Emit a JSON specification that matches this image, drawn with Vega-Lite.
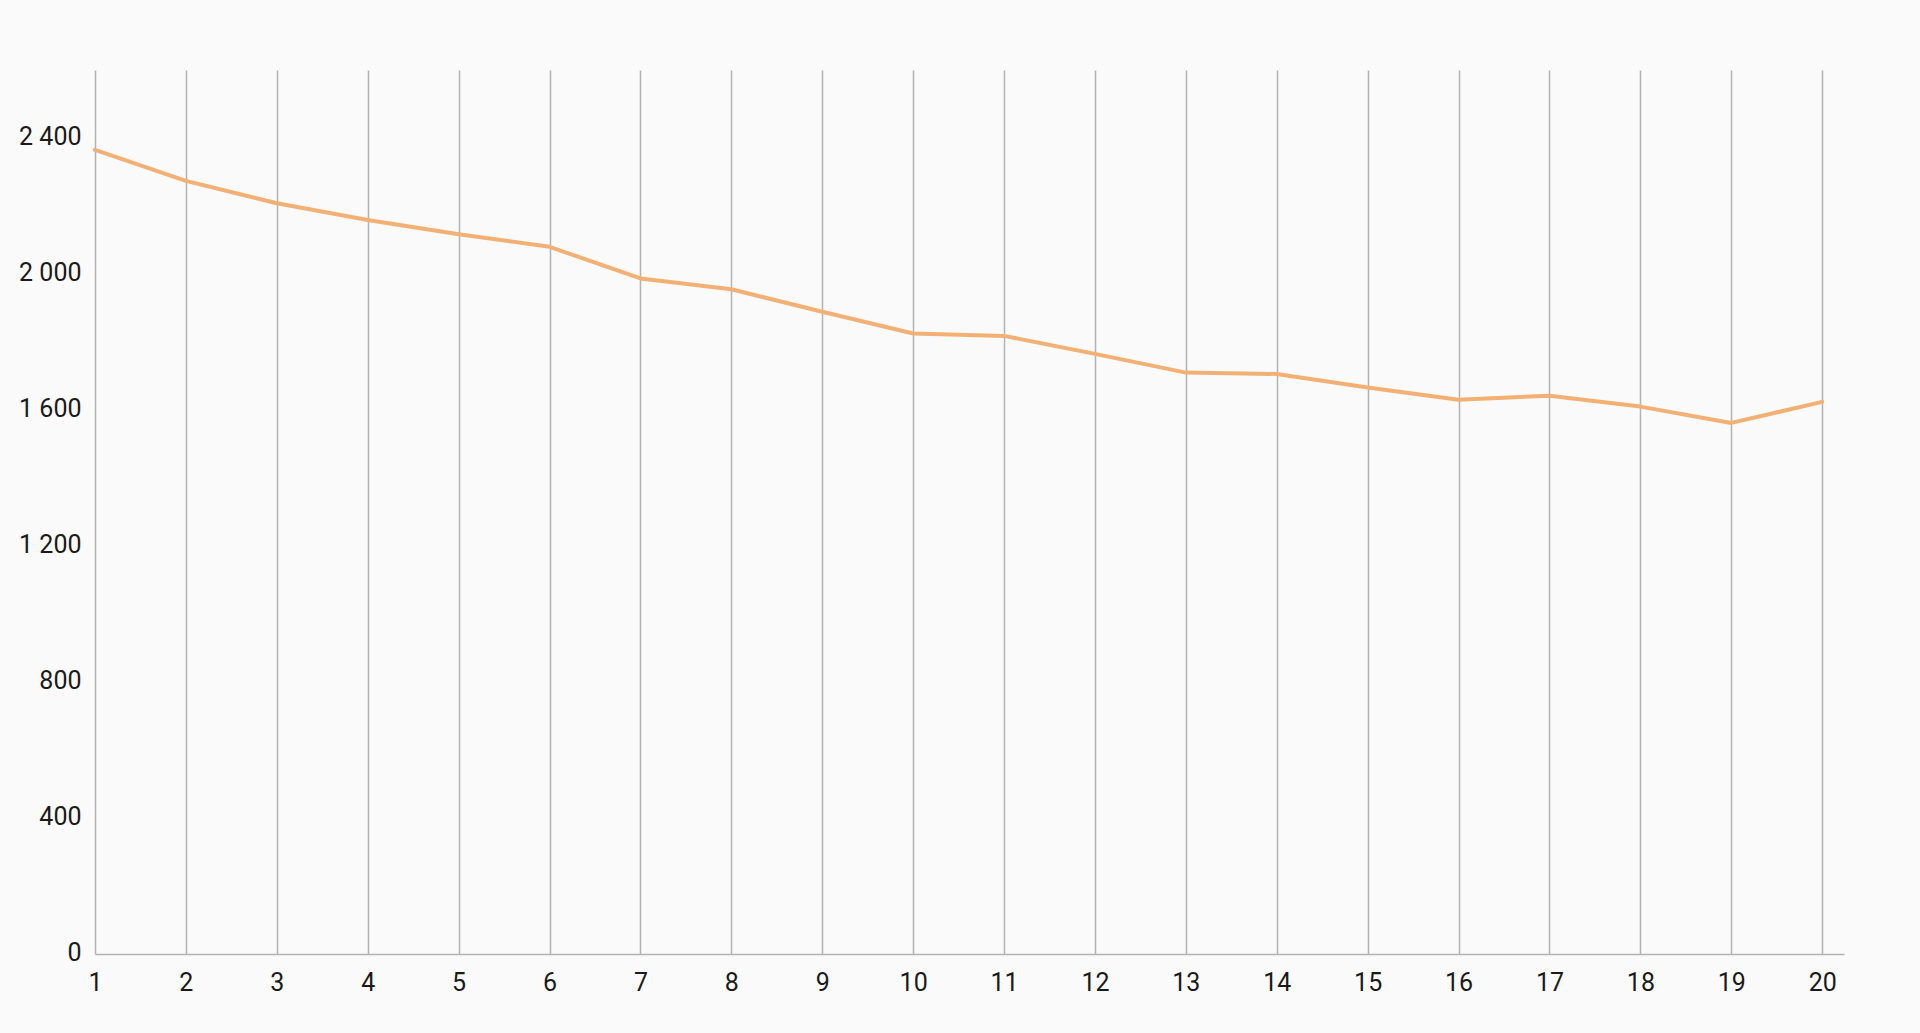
{
  "$schema": "https://vega.github.io/schema/vega-lite/v6.json",
  "width": 1749,
  "height": 884,
  "autosize": "none",
  "padding": {"left": 95, "top": 70, "right": 76, "bottom": 79},
  "background": "#fafafa",
  "config": {
    "view": {"stroke": null},
    "locale": {"number": {"decimal": ",", "thousands": " ", "grouping": [3], "currency": ["", " zł"]}},
    "axis": {"labelFont": "Roboto", "labelFontSize": 25, "labelColor": "#1a1a1a"}
  },
  "data": {
    "values": [
      {"n": 1, "v": 2365},
      {"n": 2, "v": 2274},
      {"n": 3, "v": 2208},
      {"n": 4, "v": 2159},
      {"n": 5, "v": 2117},
      {"n": 6, "v": 2080},
      {"n": 7, "v": 1987},
      {"n": 8, "v": 1955},
      {"n": 9, "v": 1889},
      {"n": 10, "v": 1825},
      {"n": 11, "v": 1818},
      {"n": 12, "v": 1765},
      {"n": 13, "v": 1710},
      {"n": 14, "v": 1706},
      {"n": 15, "v": 1666},
      {"n": 16, "v": 1630},
      {"n": 17, "v": 1642},
      {"n": 18, "v": 1610},
      {"n": 19, "v": 1562},
      {"n": 20, "v": 1624}
    ]
  },
  "mark": {"type": "line", "color": "#f3b074", "strokeWidth": 4, "strokeCap": "round", "strokeJoin": "round"},
  "encoding": {
    "x": {
      "field": "n",
      "type": "quantitative",
      "scale": {"domain": [1, 20.24], "nice": false, "zero": false},
      "axis": {
        "title": null,
        "values": [1,2,3,4,5,6,7,8,9,10,11,12,13,14,15,16,17,18,19,20],
        "format": "d",
        "grid": true,
        "gridColor": "#b3b3b3",
        "gridWidth": 1.5,
        "domainColor": "#b3b3b3",
        "domainWidth": 1.5,
        "ticks": false,
        "labelPadding": 16,
        "labelFlush": false
      }
    },
    "y": {
      "field": "v",
      "type": "quantitative",
      "scale": {"domain": [0, 2600], "nice": false},
      "axis": {
        "title": null,
        "values": [0, 400, 800, 1200, 1600, 2000, 2400],
        "format": ",d",
        "grid": false,
        "domain": false,
        "ticks": false,
        "labelPadding": 14,
        "labelOffset": -2
      }
    }
  }
}
